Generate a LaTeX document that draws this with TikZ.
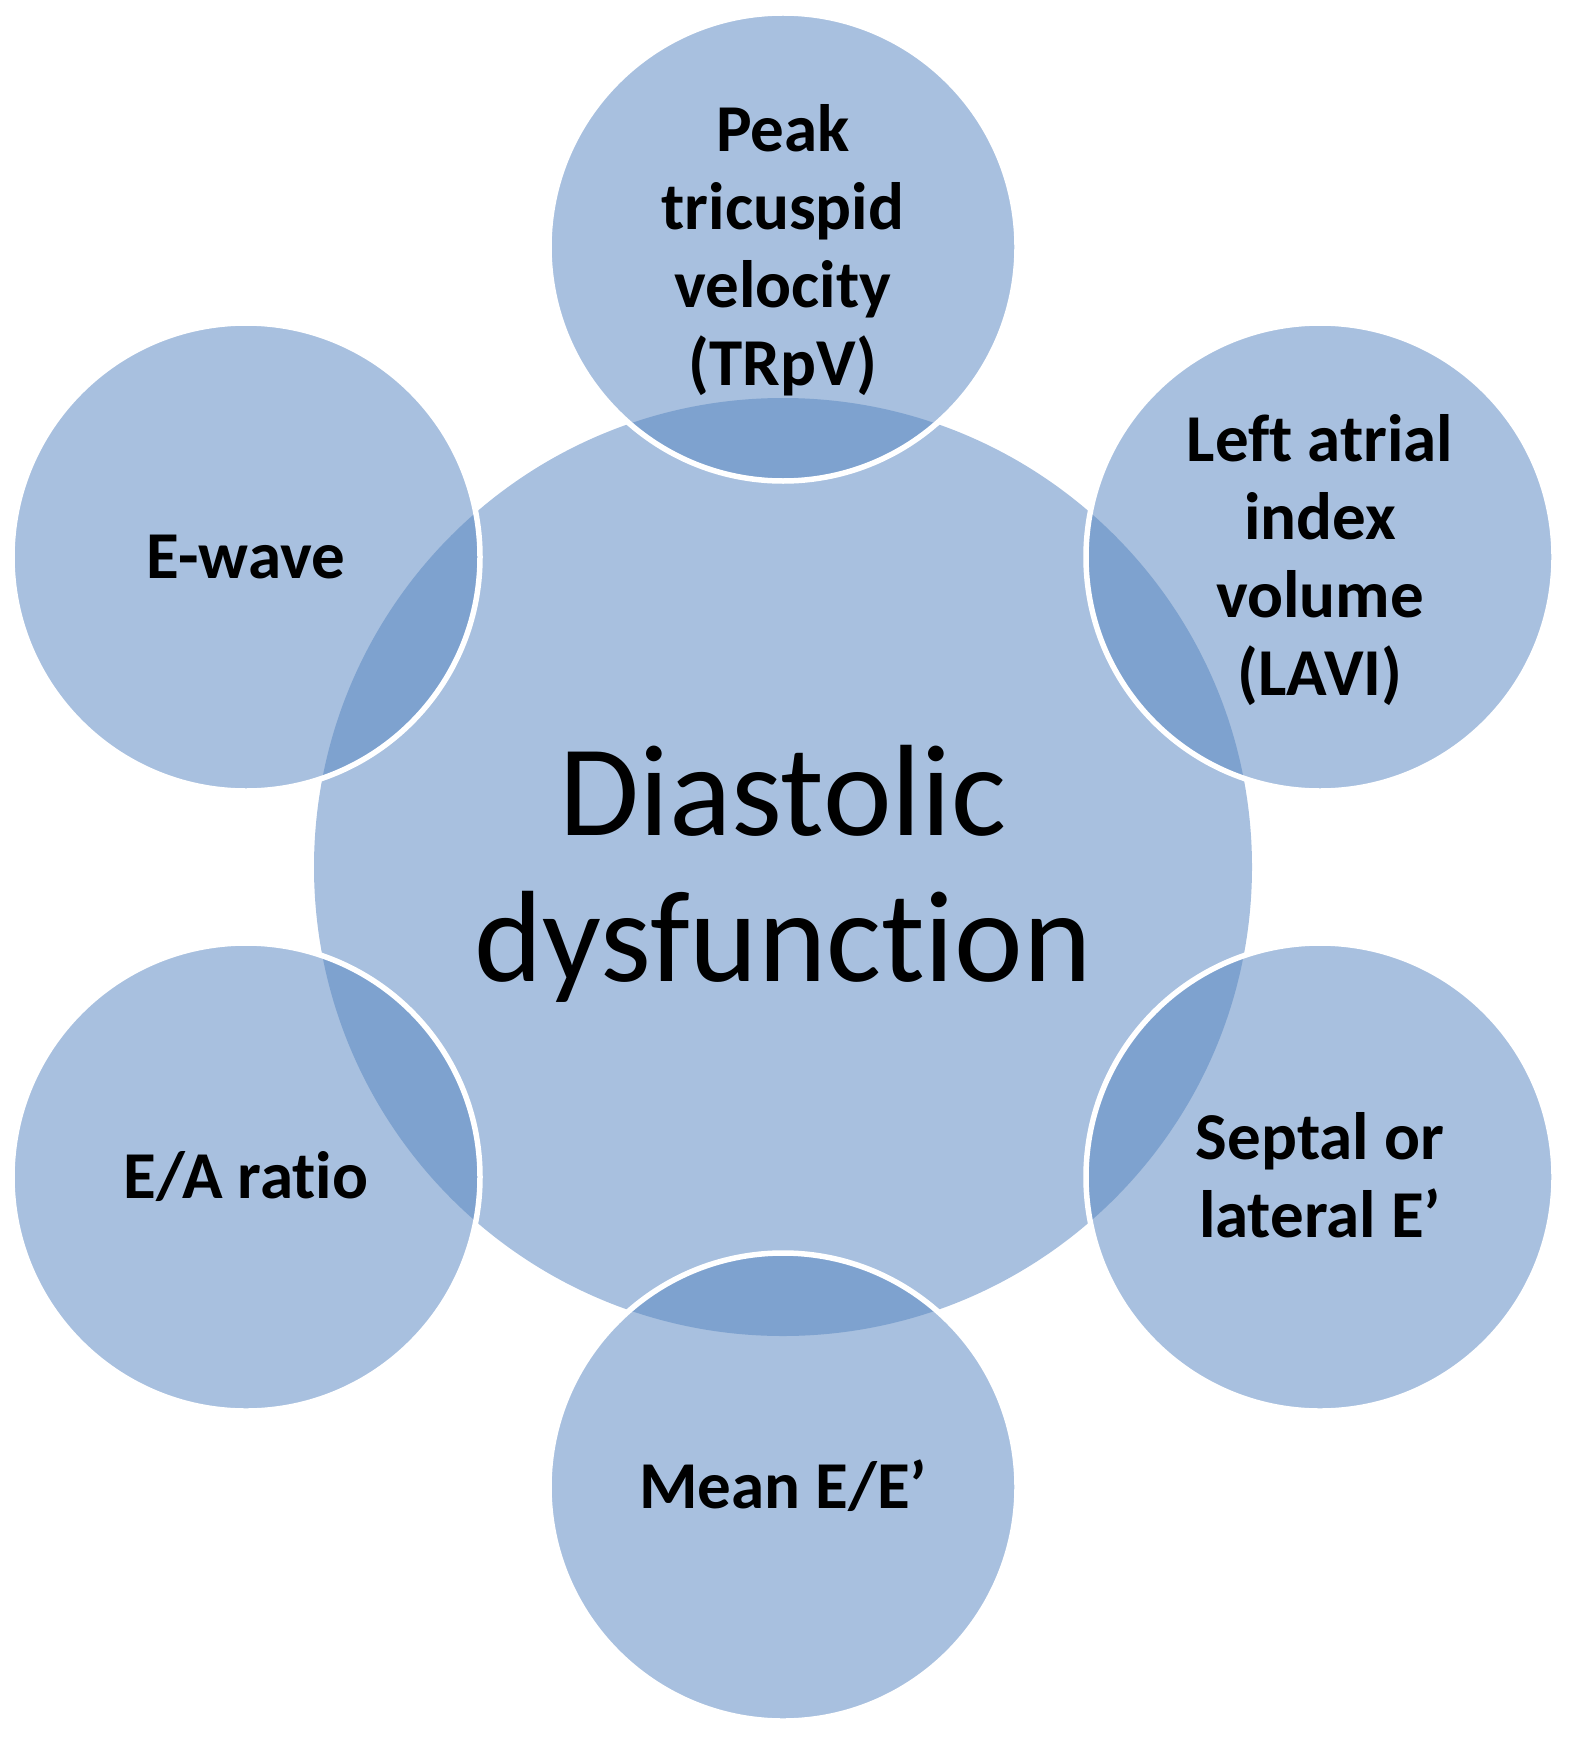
\documentclass[tikz,border=0pt]{standalone}
\usepackage{fontspec}
\setmainfont{Carlito}[Ligatures=NoCommon]
\definecolor{lightblue}{HTML}{A8C0DF}
\definecolor{darkblue}{HTML}{7EA2CF}
\tikzset{
  hub/.style={circle, fill=lightblue, inner sep=0pt, minimum size=469pt},
  sat/.style={circle, fill=lightblue, inner sep=0pt, minimum size=234pt},
  satlabel/.style={inner sep=0pt, align=center, text depth=0pt,
    font=\fontsize{33.5}{39}\selectfont\bfseries},
  hublabel/.style={inner sep=0pt, align=center, text depth=0pt,
    font=\fontsize{65}{73}\selectfont},
  rim/.style={draw=white, line width=2.75pt}
}
\begin{document}
\begin{tikzpicture}[x=0.5pt, y=-0.5pt]
\useasboundingbox (0,0) rectangle (1568,1739);
\node[hub] (c0) at (783,867) {};
\node[sat] (s1) at (783,247) {};
\node[sat] (s2) at (1320,557) {};
\node[sat] (s3) at (1320,1177) {};
\node[sat] (s4) at (783,1487) {};
\node[sat] (s5) at (246,1177) {};
\node[sat] (s6) at (246,557) {};
\foreach \s in {s1,s2,s3,s4,s5,s6}{
  \begin{scope}
    \clip (\s.center) circle (117pt);
    \fill[darkblue] (c0.center) circle (234.5pt);
  \end{scope}
  \draw[rim] (\s.center) circle (117pt);
}
\node[hublabel, text height=114.9pt] (t0) at (c0.center) {Diastolic\\dysfunction};
\node[satlabel, text height=138.6pt] (t1) at (s1.center) {Peak\\tricuspid\\velocity\\(TRpV)};
\node[satlabel, text height=138.6pt] (t2) at (s2.center) {Left atrial\\index\\volume\\(LAVI)};
\node[satlabel, text height=60.6pt] (t3) at (s3.center) {Septal or\\lateral E’};
\node[satlabel, text height=21.6pt] (t4) at (s4.center) {Mean E/E’};
\node[satlabel, text height=21.6pt] (t5) at (s5.center) {E/A ratio};
\node[satlabel, text height=21.6pt] (t6) at (s6.center) {E-wave};
\end{tikzpicture}
\end{document}
